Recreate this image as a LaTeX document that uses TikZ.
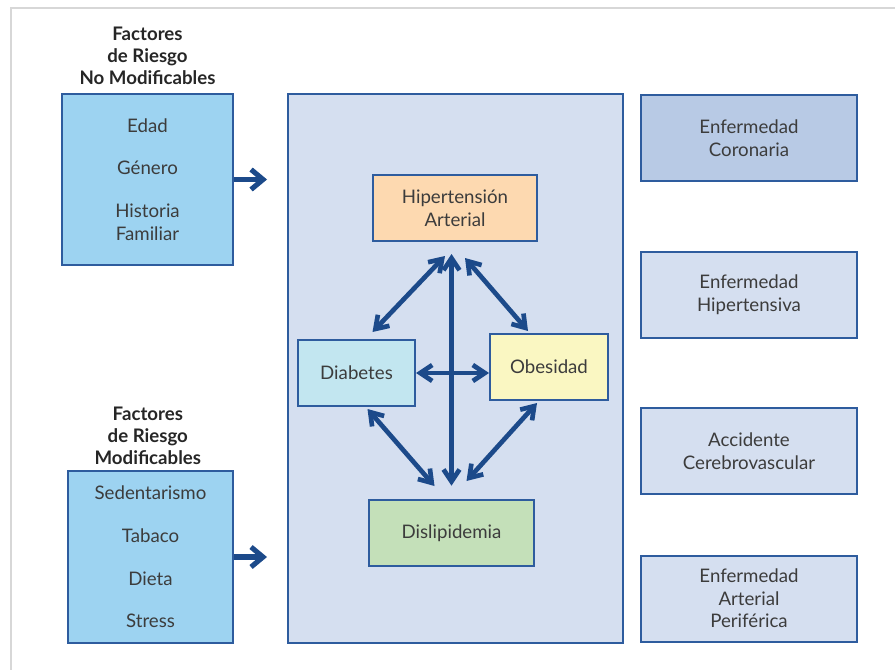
\documentclass[tikz,border=0pt]{standalone}
\usepackage{fontspec}
\setmainfont{Lato}
\usetikzlibrary{arrows.meta,calc,positioning}

\definecolor{bordeazul}{RGB}{46,92,158}
\definecolor{flechazul}{RGB}{28,74,138}
\definecolor{celeste}{RGB}{157,211,241}
\definecolor{fondoazul}{RGB}{213,223,240}
\definecolor{coronazul}{RGB}{184,202,229}
\definecolor{durazno}{RGB}{253,217,176}
\definecolor{cian}{RGB}{194,230,240}
\definecolor{amarillo}{RGB}{250,247,194}
\definecolor{verde}{RGB}{196,224,185}
\definecolor{textogris}{RGB}{60,60,60}
\definecolor{marcogris}{RGB}{215,215,215}

\tikzset{every picture/.style={line width=0.75pt}}
\tikzset{
  caja/.style={draw=bordeazul, line width=1.5pt, align=center, text=textogris,
    font=\fontsize{14}{17}\selectfont, inner sep=0pt},
  titulo/.style={align=center, text=black!85, inner sep=0pt,
    font=\fontsize{14}{16.5}\selectfont\bfseries},
  flecha/.style={draw=flechazul, line width=3.8pt, -{Straight Barb[length=9pt,width=15pt]}},
  doble/.style={draw=flechazul, line width=3.5pt, {Straight Barb[length=9pt,width=12pt]}-{Straight Barb[length=9pt,width=12pt]}}
}

\begin{document}
\begin{tikzpicture}[x=0.75pt,y=0.75pt,yscale=-1,xscale=1]
\useasboundingbox (0,0) rectangle (895,670);

%Frame
\draw [color=marcogris, line width=1.5pt] (11,670) -- (11,8) -- (895,8) ;

%Left boxes
\node [caja, fill=celeste, minimum width=128.25pt, minimum height=128.25pt] (nomod) at (147.5,179.5) {Edad\\[15pt]Género\\[15pt]Historia\\Familiar};
\node [caja, fill=celeste, minimum width=123.75pt, minimum height=129pt] (mod) at (150.5,557) {Sedentarismo\\[15pt]Tabaco\\[15pt]Dieta\\[15pt]Stress};

% Text Node
\node [titulo, above=6pt of nomod] (tnomod) {Factores\\de Riesgo\\No Modificables};
% Text Node
\node [titulo, above=4pt of mod, xshift=-2pt] (tmod) {Factores\\de Riesgo\\Modificables};

%Middle box
\node [caja, fill=fondoazul, minimum width=251.25pt, minimum height=411.75pt] (centro) at (455.5,368.5) {};

\node [caja, fill=durazno, minimum width=123pt, minimum height=49.5pt] (hta) at (455,208) {Hipertensión\\Arterial};
\node [caja, fill=cian, minimum width=87.75pt, minimum height=49.5pt] (diab) at (356.5,373) {Diabetes};
\node [caja, fill=amarillo, minimum width=88.5pt, minimum height=49.5pt] (obes) at (549,367) {Obesidad};
\node [caja, fill=verde, minimum width=123.75pt, minimum height=49.5pt] (disl) at (451.5,533) {Dislipidemia};

%Right boxes
\node [caja, fill=coronazul, minimum width=162pt, minimum height=64.5pt] (coron) at (749,138) {Enfermedad\\Coronaria};
\node [caja, fill=fondoazul, minimum width=162pt, minimum height=64.5pt] (hiper) at (749,294.5) {Enfermedad\\Hipertensiva};
\node [caja, fill=fondoazul, minimum width=162pt, minimum height=64.5pt] (acv) at (749,451) {Accidente\\Cerebrovascular};
\node [caja, fill=fondoazul, minimum width=162pt, minimum height=64.5pt] (eap) at (749,598.5) {Enfermedad\\Arterial\\Periférica};

%Arrows into middle box
\draw [flecha, shorten >=15pt] (nomod.east) -- (nomod.east -| centro.west) ;
\draw [flecha, shorten >=15pt] (mod.east) -- (mod.east -| centro.west) ;

%Arrows between factors
\draw [doble, shorten <=9pt, shorten >=10pt] (disl.north |- hta.south) -- (disl.north) ;
\draw [doble] (diab.east) -- (diab.east -| obes.west) ;
\draw [doble] ($(hta.south)+(-10,14)$) -- ($(diab.north)+(16,-7)$) ;
\draw [doble] ($(hta.south)+(10,16)$) -- ($(obes.north)+(-21,-2)$) ;
\draw [doble] ($(diab.south)+(11,2)$) -- ($(disl.north)+(-17,-13)$) ;
\draw [doble] ($(obes.south)+(-12,2)$) -- ($(disl.north)+(15,-18)$) ;

\end{tikzpicture}
\end{document}
